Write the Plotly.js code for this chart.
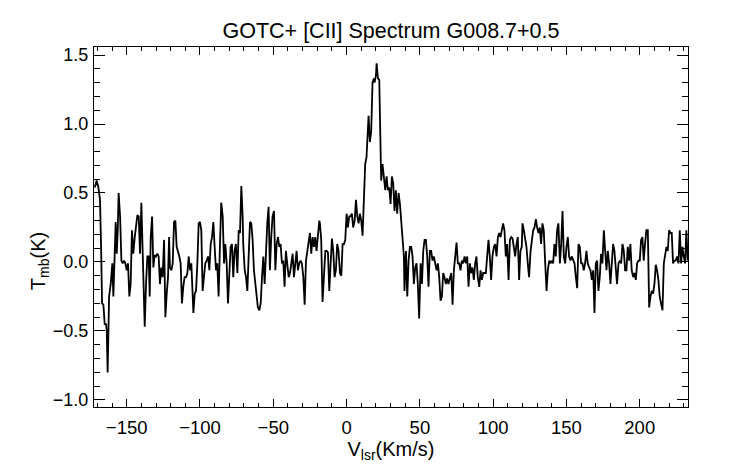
<!DOCTYPE html>
<html>
<head>
<meta charset="utf-8">
<script src="https://cdn.plot.ly/plotly-3.0.1.min.js"></script>
<style>html,body{margin:0;padding:0;background:#fff;}#chart{width:742px;height:464px;}</style>
</head>
<body>
<div id="chart"></div>
<script>
// Velocity (km/s) and main-beam temperature (K), in segments
const velA = [-171.8,-170.5,-169.3,-168.2,-167.5,-166.8,-165.9,-165.0,-164.1,-163.6,-163.0,-162.0,-160.9,-159.8,-159.1,-158.2,-157.5,-156.8,-156.1,-155.5,-154.5,-153.6,-152.7,-151.8,-150.9,-150.0,-149.1,-148.2,-147.3,-146.4,-145.5,-144.5,-143.6,-142.7,-141.8,-140.9,-140.0,-139.1,-137.7,-136.8,-135.9,-135.0,-134.3,-133.6,-132.7,-131.8,-130.9,-130.0,-129.1,-128.2,-127.3,-126.4,-125.5,-124.5,-123.6,-122.7,-121.8,-121.1,-120.5,-119.5,-118.6,-117.7,-116.8,-115.9,-115.0,-114.1,-113.2,-112.3,-111.4,-110.5,-109.5,-108.6,-107.7,-106.8,-105.9,-104.5,-103.6,-102.7,-101.8,-100.9,-100.0,-99.1,-98.2,-97.3,-96.4,-95.5,-94.5,-93.6,-92.7,-91.8,-90.9,-90.0,-89.1,-88.2,-87.3,-86.4,-85.5,-84.5,-83.6,-82.7,-81.8,-80.9,-80.0,-79.1,-78.2,-77.3,-76.4,-75.5,-74.5,-73.6,-72.7,-71.8,-70.9,-70.5,-69.5,-68.6,-67.7,-66.8,-65.9,-65.0,-64.1,-63.2,-62.3,-61.4,-60.5,-59.5,-58.6,-57.7,-56.8,-55.9,-55.0,-54.1,-53.2,-52.3,-51.4,-50.5,-49.5,-48.6,-47.7,-46.8,-45.9,-45.0,-44.1,-43.2,-42.3,-41.4,-40.5,-39.5,-38.6,-37.7,-36.8,-35.9,-35.0,-34.1,-33.2,-32.3,-31.4,-30.5,-29.5,-28.6,-27.7,-26.8,-25.9,-25.0,-24.1,-23.2,-22.3,-21.4,-20.5,-19.5,-18.6,-18.2,-17.3,-16.4,-15.5,-14.5,-13.6,-12.7,-11.8,-10.9,-10.0,-9.1,-8.2,-7.3,-6.4,-5.5,-4.5,-3.6,-2.7,-1.8,-0.9];
const tmbA = [0.54,0.59,0.54,0.45,0.13,-0.30,-0.31,-0.45,-0.45,-0.50,-0.80,-0.25,-0.16,-0.01,-0.25,-0.01,0.29,0.06,0.23,0.50,0.33,0.01,-0.01,0.01,-0.01,-0.06,-0.01,-0.25,-0.16,0.23,0.06,0.18,0.28,0.34,0.33,0.06,0.43,0.11,-0.47,-0.16,0.04,0.04,-0.25,0.18,0.33,-0.04,0.05,0.04,0.06,0.04,-0.16,-0.04,-0.11,0.16,-0.40,-0.23,-0.11,0.18,-0.04,-0.06,-0.01,0.29,0.30,0.11,0.08,0.04,-0.01,-0.30,-0.18,-0.11,-0.11,-0.08,0.04,-0.06,-0.01,-0.37,-0.23,-0.21,-0.01,0.28,0.29,0.23,-0.21,-0.11,-0.01,0.01,0.04,-0.06,0.13,0.18,0.29,0.11,-0.06,-0.01,-0.25,0.11,0.43,0.33,-0.01,0.13,-0.01,-0.30,-0.08,0.11,0.13,-0.11,0.08,0.13,-0.08,0.23,0.21,0.55,0.33,0.13,-0.06,-0.11,-0.21,-0.01,0.29,0.28,0.16,-0.06,-0.16,-0.25,-0.33,-0.35,-0.30,-0.11,0.04,-0.16,0.13,0.28,0.40,-0.06,0.18,0.33,0.37,-0.06,0.13,0.18,0.11,0.13,-0.01,0.01,-0.18,0.08,-0.01,-0.11,-0.08,-0.01,0.06,-0.11,-0.01,0.08,-0.06,-0.01,0.01,-0.01,-0.11,-0.31,0.01,0.08,0.13,0.21,0.06,0.18,0.11,0.18,0.08,0.23,0.30,0.28,0.16,-0.29,-0.06,0.08,0.08,0.07,-0.21,-0.01,0.17,0.08,-0.11,-0.06,0.13,0.08,-0.08,-0.10,0.13,0.13,0.16];

const velB = [0.0,0.9,1.8,2.7,3.6,4.5,5.5,6.4,7.3,8.2,9.1,10.0,10.9,11.8,12.7,13.6,14.5,15.0,15.9,16.8,17.7,18.6,19.1,20.0,20.5,21.4,22.3,23.2,23.6,24.5,25.5,26.4,27.3,28.2,29.1,30.0,30.9,31.8,32.7,33.6,34.5,35.5,36.4,37.3,38.2,39.1,39.5,40.5,41.4,42.3,43.2,44.1,45.0,45.9,46.8,47.7,48.6,49.5,50.5,51.4,52.3,53.2,54.1,55.0,55.9,56.8,57.7,58.6,59.5];
const tmbB = [0.35,0.25,0.33,0.33,0.35,0.25,0.30,0.45,0.33,0.28,0.35,0.30,0.19,0.47,0.71,0.76,1.03,1.06,0.87,0.95,1.30,1.33,1.30,1.35,1.44,1.33,1.32,0.91,0.59,0.71,0.62,0.52,0.62,0.52,0.54,0.42,0.62,0.57,0.37,0.52,0.35,0.50,0.42,0.30,0.18,0.04,-0.21,0.08,-0.25,0.01,0.11,0.11,0.04,-0.16,-0.04,-0.01,-0.16,-0.41,-0.01,-0.16,0.08,0.16,0.16,0.04,-0.18,0.08,0.08,0.01,0.04];

const velC = [60.5,61.4,62.3,63.2,64.1,65.0,65.9,66.8,67.7,68.6,69.5,70.5,71.4,72.3,73.2,74.1,75.0,75.9,76.8,77.7,78.6,79.5,80.5,81.4,82.3,83.2,84.1,85.0,85.9,86.8,87.7,88.6,89.5,90.5,91.4,92.3,93.2,94.1,95.0,95.9,96.8,97.7,98.6,99.5,100.5,101.4,102.3,103.2,104.1,105.0,105.9,106.8,107.7,108.6,109.5,110.5,111.4,112.3,113.2,114.1,115.0,115.9,116.8,117.7,118.6,119.5,120.0,120.9,121.8,122.7,123.6,124.5,125.5,126.4,127.3,128.2,129.1,130.0,130.9,131.8,132.7,133.6,134.5,135.5,136.4,137.3,138.2,139.1,140.0,140.9,141.8,142.7,143.6,144.5,145.5,146.4,147.3,148.2,149.1];
const tmbC = [-0.01,-0.06,-0.01,-0.11,-0.28,-0.25,-0.08,-0.11,-0.16,-0.12,-0.16,-0.11,-0.08,-0.31,-0.06,0.04,0.14,-0.01,-0.01,-0.06,0.01,-0.01,0.04,-0.01,0.04,-0.18,-0.01,-0.08,-0.04,-0.13,-0.01,0.04,-0.11,-0.18,-0.06,-0.13,-0.08,-0.08,-0.08,0.04,0.16,0.04,-0.13,0.04,0.11,0.13,0.04,0.18,0.21,0.18,0.23,0.28,0.23,0.04,0.13,-0.13,0.16,0.18,0.17,0.11,0.04,0.13,0.18,-0.13,0.08,0.11,0.28,0.23,0.18,0.11,-0.01,-0.11,0.08,0.18,0.23,0.25,0.31,0.25,0.21,0.25,0.13,0.28,0.23,-0.01,-0.21,-0.06,0.01,-0.01,0.01,-0.01,0.13,0.04,0.23,0.28,-0.01,0.13,0.37,0.04,-0.01];

const velD = [150.0,150.9,151.8,152.7,153.6,154.5,155.5,156.4,157.3,158.2,159.1,160.0,160.9,161.8,162.7,163.6,164.5,165.5,166.4,167.3,168.2,169.1,170.0,170.9,171.8,172.7,173.6,174.5,175.5,176.4,177.3,178.2,179.1,180.0,180.9,181.8,182.7,183.6,184.5,185.5,186.4,187.3,188.2,189.1,190.0,190.9,191.8,192.7,193.6,194.5,195.5,196.4,197.3,198.2,199.1,200.0,200.9,201.8,202.7,203.6,204.5,205.5,206.4,207.3,208.2,209.1,210.0,210.9,211.8,212.7,213.6,214.5,215.5,216.4,217.3,218.2,219.1,220.0,220.9,221.8,222.7,223.6,224.5,225.5,226.4,227.3,228.2,229.1,230.0,230.9,231.8,232.7];
const tmbD = [0.11,0.18,0.04,0.01,0.04,0.01,-0.01,-0.11,-0.19,0.13,0.11,-0.01,-0.01,-0.06,-0.01,0.08,-0.01,-0.04,-0.06,-0.13,-0.06,-0.37,-0.01,0.01,-0.21,-0.11,0.06,-0.01,0.23,0.08,-0.06,0.08,-0.01,-0.16,0.01,0.13,0.08,-0.06,-0.16,-0.01,0.01,-0.01,0.13,0.08,-0.06,-0.06,0.11,0.01,0.13,-0.06,-0.11,-0.08,-0.13,-0.01,0.01,0.01,0.16,0.18,0.01,0.13,0.23,0.23,-0.33,-0.25,-0.21,-0.23,-0.16,-0.02,-0.06,-0.13,-0.25,-0.30,-0.35,-0.01,0.04,0.11,0.08,0.23,0.21,0.21,-0.01,0.01,0.01,0.04,-0.01,0.23,-0.01,0.11,0.04,-0.01,0.23,0.01];

const chartTitle = "GOTC+ [CII] Spectrum G008.7+0.5";
const xTitle = "V<sub>lsr</sub>(Km/s)";
const yTitle = "T<sub>mb</sub>(K)";

const vel = velA.concat(velB, velC, velD);
const tmb = tmbA.concat(tmbB, tmbC, tmbD);

const FONT = "Liberation Sans, Arial, Helvetica, sans-serif";

const trace = {
  x: vel, y: tmb, type: "scatter", mode: "lines",
  line: {color: "#000", width: 1.8, shape: "linear"},
  hoverinfo: "skip"
};

const layout = {
  width: 742, height: 464,
  margin: {l: 94, r: 54, t: 47, b: 57, pad: 0},
  paper_bgcolor: "#fff", plot_bgcolor: "#fff",
  showlegend: false,
  font: {family: FONT, color: "#000", size: 18},
  title: {text: chartTitle, font: {family: FONT, size: 21.5, color: "#000"},
          x: 0.5, xanchor: "center", xref: "paper", y: 0.934, yanchor: "middle", yref: "container"},
  xaxis: {
    range: [-172.3, 232.9], tick0: 0, dtick: 50, tickmode: "linear",
    ticks: "inside", ticklen: 8, tickwidth: 1, tickcolor: "#000",
    minor: {ticks: "inside", dtick: 10, tick0: 0, ticklen: 4, tickwidth: 1, tickcolor: "#000"},
    showline: true, linecolor: "#000", linewidth: 1, mirror: "allticks",
    showgrid: false, zeroline: false, ticklabelstandoff: 4,
    tickfont: {family: FONT, size: 18.5, color: "#000"},
    title: {text: xTitle, font: {family: FONT, size: 20, color: "#000"}, standoff: 2}
  },
  yaxis: {
    range: [-1.051, 1.558], tick0: 0, dtick: 0.5, tickmode: "linear", tickformat: ".1f",
    ticks: "inside", ticklen: 11, tickwidth: 1, tickcolor: "#000",
    minor: {ticks: "inside", dtick: 0.1, tick0: 0, ticklen: 6, tickwidth: 1, tickcolor: "#000"},
    showline: true, linecolor: "#000", linewidth: 1, mirror: "allticks",
    showgrid: false, zeroline: false, ticklabelstandoff: 1,
    tickfont: {family: FONT, size: 18, color: "#000"}
  },
  annotations: [{
    text: yTitle, textangle: -90, showarrow: false,
    xref: "paper", yref: "paper", x: 0, y: 0.405, xanchor: "center", yanchor: "middle",
    xshift: -55, font: {family: FONT, size: 20, color: "#000"}
  }]
};

Plotly.newPlot("chart", [trace], layout, {displayModeBar: false, staticPlot: true});
</script>
</body>
</html>
